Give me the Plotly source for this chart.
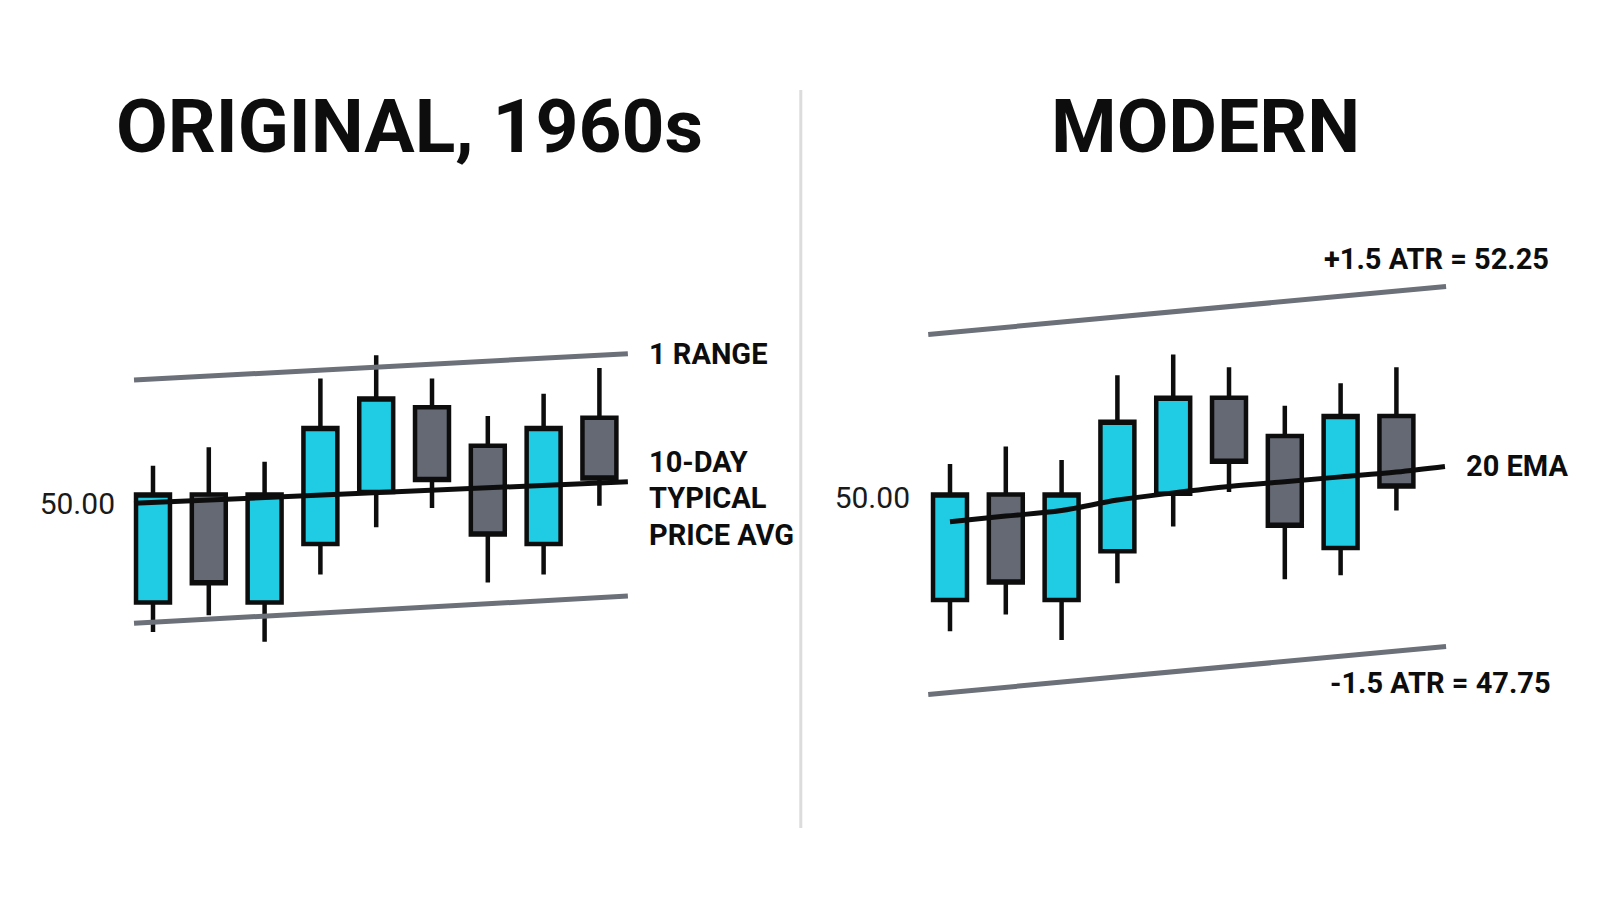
import plotly.graph_objects as go

# ---- data (price units) ----
candle_idx = [0, 1, 2, 3, 4, 5, 6, 7, 8]

# original, 1960s panel
orig_open = [48.65, 50.00, 48.65, 49.38, 50.03, 51.09, 50.61, 49.38, 50.96]
orig_high = [50.36, 50.59, 50.41, 51.45, 51.74, 51.45, 50.98, 51.26, 51.58]
orig_low = [48.28, 48.49, 48.16, 49.00, 49.59, 49.83, 48.90, 49.00, 49.86]
orig_close = [50.00, 48.89, 50.00, 50.83, 51.20, 50.18, 49.50, 50.83, 50.20]

orig_band_x = [-0.34, 8.51]
orig_upper = [51.43, 51.76]
orig_lower = [48.39, 48.73]
orig_avg = [49.89, 50.16]

# modern panel
mod_open = [48.68, 50.00, 48.68, 49.29, 50.01, 51.21, 50.73, 49.33, 50.98]
mod_high = [50.38, 50.60, 50.43, 51.49, 51.75, 51.59, 51.11, 51.39, 51.59]
mod_low = [48.29, 48.50, 48.18, 48.89, 49.60, 50.03, 48.94, 48.99, 49.80]
mod_close = [50.00, 48.90, 50.00, 50.91, 51.21, 50.41, 49.61, 50.98, 50.10]

mod_band_x = [-0.39, 8.89]
mod_upper = [52.00, 52.60]
mod_lower = [47.50, 48.10]
ema_x = [0, 1, 2, 3, 4, 5, 6, 7, 8, 8.87]
ema_y = [49.66, 49.73, 49.80, 49.93, 50.02, 50.10, 50.16, 50.22, 50.28, 50.35]

CYAN = "#1FCCE4"
GRAY = "#646973"
BAND = "#6B7079"
INK = "#0D0D0D"
FONT = "Roboto, sans-serif"

fig = go.Figure()


def add_panel(xa, ya, o, h, l, c, band_x, upper, lower, mid_x, mid_y, spline):
    for yy in (upper, lower):
        fig.add_trace(go.Scatter(x=band_x, y=yy, mode="lines", xaxis=xa, yaxis=ya,
                                 line=dict(color=BAND, width=5), hoverinfo="skip"))
    fig.add_trace(go.Candlestick(
        x=candle_idx, open=o, high=h, low=l, close=c, xaxis=xa, yaxis=ya,
        increasing=dict(fillcolor=CYAN, line=dict(color=INK, width=4.5)),
        decreasing=dict(fillcolor=GRAY, line=dict(color=INK, width=4.5)),
        whiskerwidth=0,
    ))
    fig.add_trace(go.Scatter(x=mid_x, y=mid_y, mode="lines", xaxis=xa, yaxis=ya,
                             line=dict(color=INK, width=5,
                                       shape="spline" if spline else "linear"),
                             hoverinfo="skip"))


add_panel("x", "y", orig_open, orig_high, orig_low, orig_close,
          orig_band_x, orig_upper, orig_lower, orig_band_x, orig_avg, False)
add_panel("x2", "y2", mod_open, mod_high, mod_low, mod_close,
          mod_band_x, mod_upper, mod_lower, ema_x, ema_y, True)

yrange = [44.656, 56.081]
axis_y = dict(range=yrange, showgrid=False, zeroline=False, showline=False,
              tickvals=[50], ticktext=["50.00"], ticks="", ticklen=0,
              automargin=False,
              tickfont=dict(family=FONT, size=30, color="#1a1a1a"),
              fixedrange=True)
axis_x = dict(showgrid=False, zeroline=False, showline=False, showticklabels=False,
              automargin=False, rangeslider=dict(visible=False), fixedrange=True)

fig.update_layout(
    width=1600, height=914,
    margin=dict(l=0, r=0, t=0, b=0),
    paper_bgcolor="white", plot_bgcolor="white",
    showlegend=False,
    boxgap=0.22, boxgroupgap=0.22,
    xaxis=dict(axis_x, domain=[0.0675, 0.5], range=[-0.663, 11.738]),
    xaxis2=dict(axis_x, domain=[0.564375, 1.0], range=[-0.699, 11.792]),
    yaxis=dict(axis_y, anchor="x", ticklabelshift=9),
    yaxis2=dict(axis_y, anchor="x2", ticklabelshift=3),
)

# divider
fig.add_shape(type="line", xref="paper", yref="paper", x0=0.4955, x1=0.4955,
              y0=0.1028, y1=0.9103, line=dict(color="#DCDCDC", width=3))

# titles
for txt, xc in (("ORIGINAL, 1960s", 402 / 1600), ("MODERN", 1197 / 1600)):
    fig.add_annotation(text="<b>%s</b>" % txt, xref="paper", yref="paper",
                       x=xc, y=1 - 118 / 914, showarrow=False,
                       xanchor="center", yanchor="middle",
                       font=dict(family=FONT, size=75, color=INK))

lab = dict(family=FONT, size=29, color=INK)

# left labels
fig.add_annotation(text="<b>1 RANGE</b>", x=orig_band_x[1], y=orig_upper[1],
                   xref="x", yref="y", showarrow=False, xanchor="left",
                   yanchor="middle", xshift=19, font=lab)
for i, line in enumerate(["10-DAY", "TYPICAL", "PRICE AVG"]):
    fig.add_annotation(text="<b>%s</b>" % line, x=orig_band_x[1], y=orig_avg[1],
                       xref="x", yref="y", showarrow=False, xanchor="left",
                       yanchor="middle", xshift=19, yshift=20 - 36.5 * i, font=lab)

# right labels
fig.add_annotation(text="<b>+1.5 ATR = 52.25</b>", x=mod_band_x[1], y=mod_upper[1],
                   xref="x2", yref="y2", showarrow=False, xanchor="right",
                   yanchor="middle", xshift=105, yshift=27, font=lab)
fig.add_annotation(text="<b>-1.5 ATR = 47.75</b>", x=mod_band_x[1], y=mod_lower[1],
                   xref="x2", yref="y2", showarrow=False, xanchor="right",
                   yanchor="middle", xshift=107, yshift=-37, font=lab)
fig.add_annotation(text="<b>20 EMA</b>", x=ema_x[-1], y=ema_y[-1],
                   xref="x2", yref="y2", showarrow=False, xanchor="left",
                   yanchor="middle", xshift=19, font=lab)

fig.write_html("out.html")
